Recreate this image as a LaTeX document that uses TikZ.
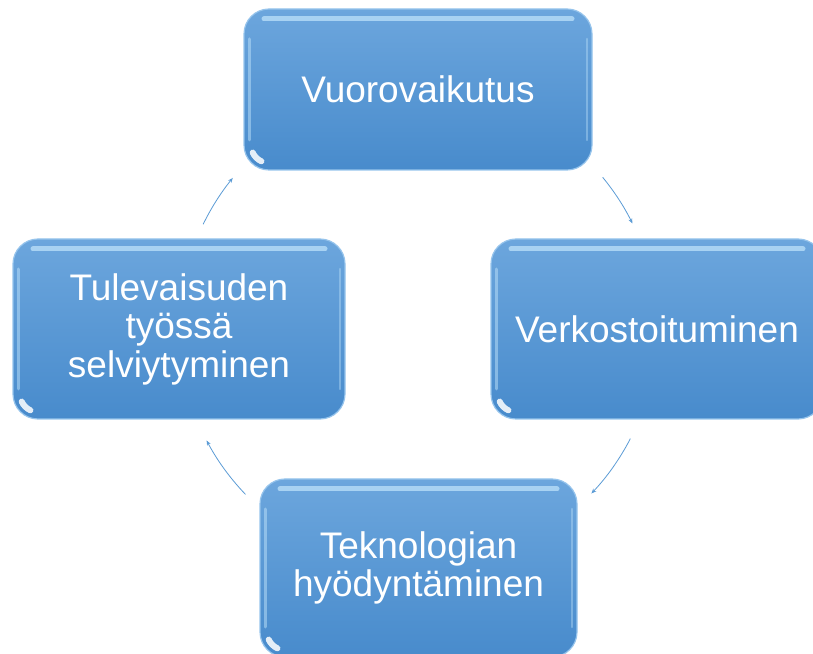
\documentclass[tikz,border=0pt]{standalone}
\usepackage{fontspec}
\setmainfont{Liberation Sans}
\usetikzlibrary{arrows.meta}
\definecolor{boxtop}{RGB}{108,166,221}
\definecolor{boxbot}{RGB}{72,139,204}
\definecolor{boxedge}{RGB}{150,196,236}
\definecolor{hilite}{RGB}{190,226,250}
\definecolor{arrowblue}{RGB}{91,155,213}
\tikzset{
  cyclebox/.style={rectangle, rounded corners=25pt, top color=boxtop, bottom color=boxbot,
    draw=boxedge, line width=1.2pt, text=white, align=center, inner sep=0pt,
    font=\fontsize{37}{38.5}\selectfont,
    path picture={
      \draw[hilite, line width=5pt, line cap=round, opacity=0.75]
        ([xshift=20pt,yshift=-10pt]path picture bounding box.north west) --
        ([xshift=-20pt,yshift=-10pt]path picture bounding box.north east);
      \draw[hilite, line width=3pt, line cap=round, opacity=0.5]
        ([xshift=5pt,yshift=-30pt]path picture bounding box.north west) --
        ([xshift=5pt,yshift=30pt]path picture bounding box.south west);
      \draw[hilite, line width=2.5pt, line cap=round, opacity=0.4]
        ([xshift=-5pt,yshift=-30pt]path picture bounding box.north east) --
        ([xshift=-5pt,yshift=30pt]path picture bounding box.south east);
      \draw[white, line width=6pt, line cap=round, opacity=0.85]
        ([xshift=25pt,yshift=25pt]path picture bounding box.south west)
        ++(205:18pt) arc[start angle=205, end angle=245, radius=18pt];
    }},
  cyclearrow/.style={arrowblue, line width=0.8pt, -{Stealth[length=5pt,width=4pt]}}
}
\begin{document}
\begin{tikzpicture}[x=1pt,y=1pt]
\useasboundingbox (0,0) rectangle (813,653);
\coordinate (hub) at (418,324);
\node[cyclebox, minimum width=348pt, minimum height=161pt] (vuoro) at (418,563.5) {Vuorovaikutus};
\node[cyclebox, minimum width=332pt, minimum height=180pt] (verkosto) at (657,324) {Verkostoituminen};
\node[cyclebox, minimum width=317pt, minimum height=178pt] (tekno) at (418.5,85) {Teknologian\\hyödyntäminen};
\node[cyclebox, minimum width=332pt, minimum height=180pt] (tulev) at (179,324) {Tulevaisuden\\työssä\\selviytyminen};
\draw[cyclearrow] (hub) ++(39.4:239pt) arc[start angle=39.4, end angle=26.2, radius=239pt];
\draw[cyclearrow] (hub) ++(-27.3:239pt) arc[start angle=-27.3, end angle=-43.5, radius=239pt];
\draw[cyclearrow] (hub) ++(223.8:239pt) arc[start angle=223.8, end angle=207.8, radius=239pt];
\draw[cyclearrow] (hub) ++(154:239pt) arc[start angle=154, end angle=140.8, radius=239pt];
\end{tikzpicture}
\end{document}
